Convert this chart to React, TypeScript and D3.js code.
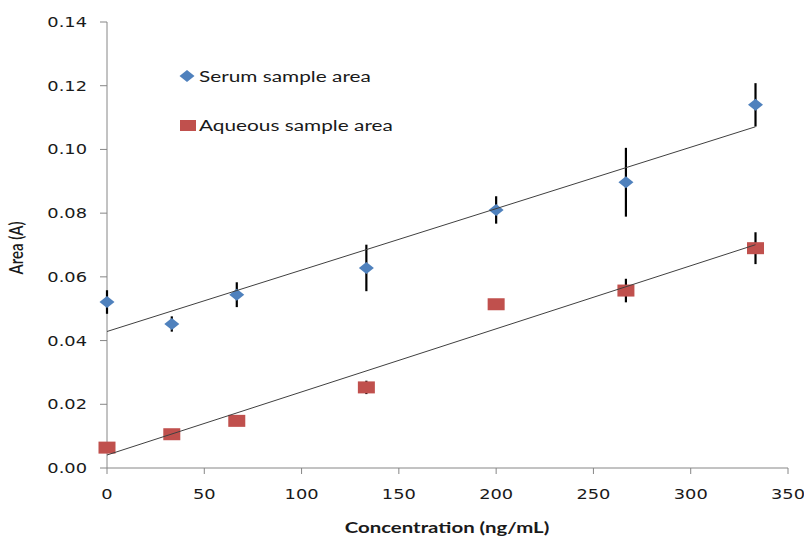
import React from "react";
import * as d3 from "d3";

const concentrations = [0, 33.3, 66.7, 133.3, 200, 266.7, 333.3];
const serumArea = [0.0521, 0.0452, 0.0544, 0.0628, 0.081, 0.0897, 0.114];
const serumErr = [0.0037, 0.0024, 0.0039, 0.0073, 0.0043, 0.0108, 0.0068];
const aqueousArea = [0.0064, 0.0106, 0.0148, 0.0253, 0.0514, 0.0557, 0.069];
const aqueousErr = [0.0, 0.0, 0.0, 0.0021, 0.0, 0.0037, 0.005];
const xTicks = [0, 50, 100, 150, 200, 250, 300, 350];
const yTicks = [0, 0.02, 0.04, 0.06, 0.08, 0.1, 0.12, 0.14];
const seriesNames = ["Serum sample area", "Aqueous sample area"];

const BLUE = "#4F81BD";
const RED = "#C0504D";
const AXIS = "#868686";
const SX = 1.32;

function fit(xs: number[], ys: number[]) {
  const mx = d3.mean(xs) as number;
  const my = d3.mean(ys) as number;
  const sxy = d3.sum(xs, (x, i) => (x - mx) * (ys[i] - my));
  const sxx = d3.sum(xs, (x) => (x - mx) * (x - mx));
  const slope = sxy / sxx;
  return { slope, intercept: my - slope * mx };
}

function SText(props: { x: number; y: number; anchor?: string; size: number; family: string; weight?: string; sx?: number; children: React.ReactNode }) {
  const { x, y, anchor = "start", size, family, weight = "normal", sx = SX, children } = props;
  return (
    <text
      transform={`translate(${x},${y}) scale(${sx},1)`}
      textAnchor={anchor}
      fontSize={size}
      fontFamily={family}
      fontWeight={weight}
      fill="#1a1a1a"
    >
      {children}
    </text>
  );
}

export default function App() {
  const W = 804;
  const H = 536;
  const x = d3.scaleLinear().domain([0, 350]).range([107, 788]);
  const y = d3.scaleLinear().domain([0, 0.14]).range([468, 22]);
  const sFit = fit(concentrations, serumArea);
  const aFit = fit(concentrations, aqueousArea);
  const xMin = concentrations[0];
  const xMax = concentrations[concentrations.length - 1];
  const line = d3.line<[number, number]>().x((d) => x(d[0])).y((d) => y(d[1]));
  const sLine = line([
    [xMin, sFit.intercept + sFit.slope * xMin],
    [xMax, sFit.intercept + sFit.slope * xMax],
  ]) as string;
  const aLine = line([
    [xMin, aFit.intercept + aFit.slope * xMin],
    [xMax, aFit.intercept + aFit.slope * xMax],
  ]) as string;

  const tickFont = "DejaVu Sans";
  const labelFont = "Lato";
  const dw = 7.5, dh = 6;
  const sw = 17, sh = 12;

  return (
    <svg width={W} height={H} style={{ position: "absolute", left: 0, top: 0, background: "#fff" }}>
      <rect x={0} y={0} width={W} height={H} fill="#fff" />
      {/* axes */}
      <line x1={x(0)} x2={x(0)} y1={y(0.14)} y2={y(0)} stroke={AXIS} strokeWidth={1} />
      <line x1={x(0)} x2={x(350)} y1={y(0)} y2={y(0)} stroke={AXIS} strokeWidth={1} />
      {yTicks.map((t) => (
        <g key={"y" + t}>
          <line x1={x(0) - 7} x2={x(0)} y1={y(t)} y2={y(t)} stroke={AXIS} />
          <SText x={87} y={y(t) + 5} anchor="end" size={13.5} family={tickFont}>
            {t.toFixed(2)}
          </SText>
        </g>
      ))}
      {xTicks.map((t) => (
        <g key={"x" + t}>
          <line x1={x(t)} x2={x(t)} y1={y(0)} y2={y(0) + 6} stroke={AXIS} />
          <SText x={x(t)} y={499} anchor="middle" size={13.5} family={tickFont}>
            {t}
          </SText>
        </g>
      ))}
      {/* axis titles */}
      <SText x={447} y={533} anchor="middle" size={15} family={labelFont} weight="bold" sx={1.36}>
        Concentration (ng/mL)
      </SText>
      <text
        transform={`translate(22.5,248) rotate(-90) scale(1.0,1.3)`}
        textAnchor="middle"
        fontSize={15}
        fontFamily={labelFont}
        fontWeight={600}
        fill="#1a1a1a"
      >
        Area (A)
      </text>
      {/* error bars */}
      {concentrations.map((c, i) => (
        <line key={"se" + i} x1={x(c)} x2={x(c)} y1={y(serumArea[i] + serumErr[i])} y2={y(serumArea[i] - serumErr[i])} stroke="#000" strokeWidth={2.2} />
      ))}
      {concentrations.map((c, i) =>
        aqueousErr[i] > 0 ? (
          <line key={"ae" + i} x1={x(c)} x2={x(c)} y1={y(aqueousArea[i] + aqueousErr[i])} y2={y(aqueousArea[i] - aqueousErr[i])} stroke="#000" strokeWidth={2.2} />
        ) : null
      )}
      {/* markers */}
      {concentrations.map((c, i) => {
        const cx = x(c), cy = y(serumArea[i]);
        return (
          <path key={"sm" + i} d={`M${cx - dw},${cy}L${cx},${cy - dh}L${cx + dw},${cy}L${cx},${cy + dh}Z`} fill={BLUE} />
        );
      })}
      {concentrations.map((c, i) => (
        <rect key={"am" + i} x={x(c) - sw / 2} y={y(aqueousArea[i]) - sh / 2} width={sw} height={sh} fill={RED} />
      ))}
      {/* trend lines */}
      <path d={sLine} stroke="#404040" strokeWidth={1} fill="none" />
      <path d={aLine} stroke="#404040" strokeWidth={1} fill="none" />
      {/* legend */}
      <path d={`M${187 - dw},76L187,${76 - dh}L${187 + dw},76L187,${76 + dh}Z`} fill={BLUE} />
      <SText x={199} y={81.5} size={16} family={labelFont} sx={1.3}>
        {seriesNames[0]}
      </SText>
      <rect x={180} y={120} width={16} height={11} fill={RED} />
      <SText x={199} y={131} size={16} family={labelFont} sx={1.3}>
        {seriesNames[1]}
      </SText>
    </svg>
  );
}
